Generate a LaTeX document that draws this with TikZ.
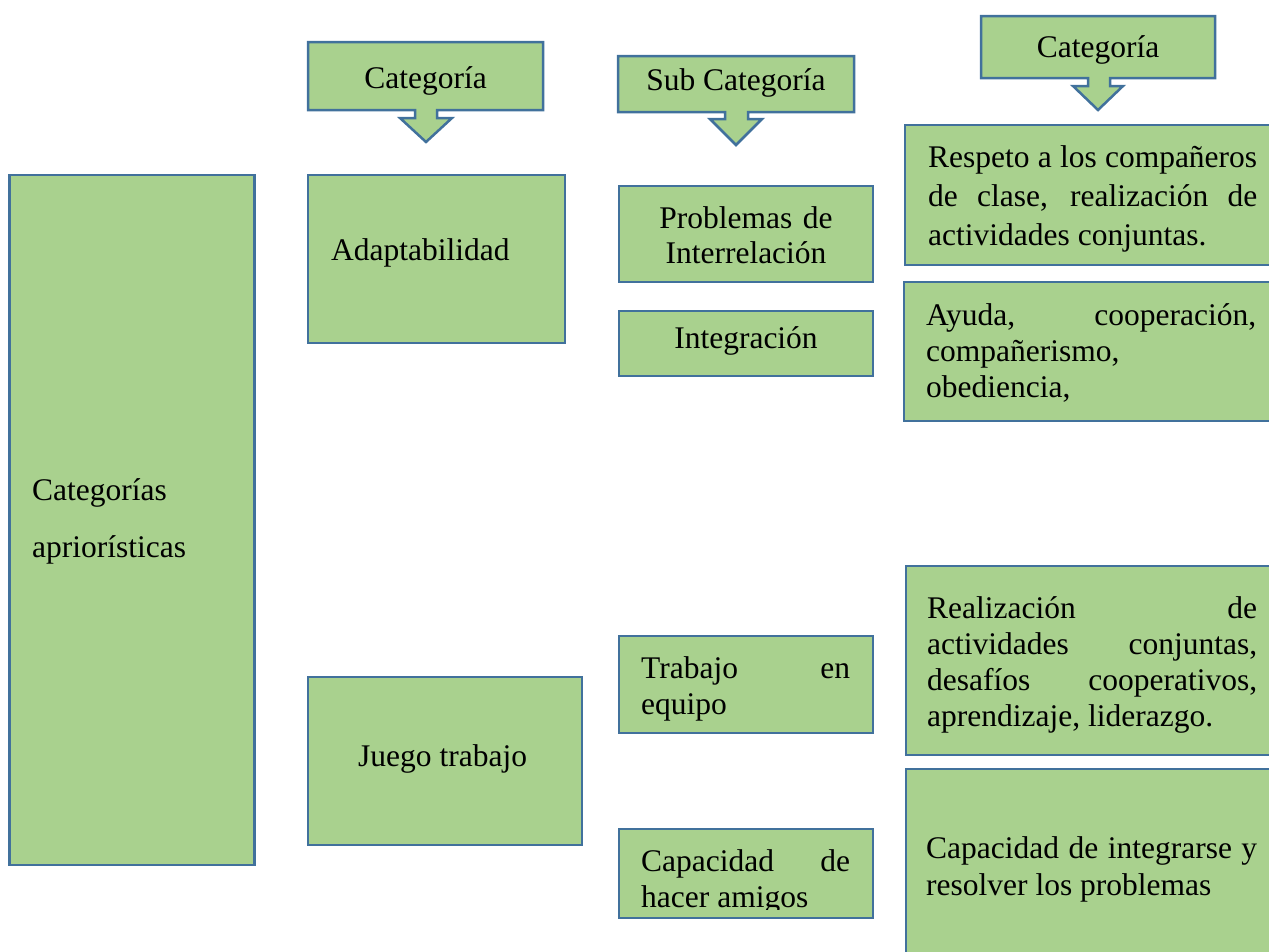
\documentclass[tikz,border=0pt]{standalone}
\usepackage{fontspec}
\setmainfont{Liberation Serif}
\definecolor{boxfill}{HTML}{A9D18E}
\definecolor{boxline}{HTML}{41719C}
\begin{document}
\begin{tikzpicture}[x=1pt,y=-1pt,
  box/.style={draw=boxline, fill=boxfill, line width=2.5pt, rectangle, inner sep=0pt},
  callout/.style={draw=boxline, fill=boxfill, line width=2.5pt, line join=miter},
  txt/.style={inner sep=0pt, font=\fontsize{31.5}{37}\selectfont},
  jtxt/.style={txt, align=justify, anchor=base west},
]
\useasboundingbox (0,0) rectangle (1269,951);

% callouts
\draw[callout] (308,42) -- (543,42) -- (543,110) -- (437,110) -- (437,118) -- (452,118) -- (426,142) -- (400,118) -- (415,118) -- (415,110) -- (308,110) -- cycle;
\node[txt, anchor=base] (c1) at (425.5,88) {Categoría};
\draw[callout] (618,56) -- (854,56) -- (854,112) -- (748,112) -- (748,119) -- (762,119) -- (736,145) -- (710,119) -- (725,119) -- (725,112) -- (618,112) -- cycle;
\node[txt, anchor=base] (c2) at (736,90) {Sub Categoría};
\draw[callout] (981,16) -- (1215,16) -- (1215,78) -- (1110,78) -- (1110,86) -- (1123,86) -- (1098,110) -- (1073,86) -- (1088,86) -- (1088,78) -- (981,78) -- cycle;
\node[txt, anchor=base] (c3) at (1098,57) {Categoría};

% boxes
\node[box, minimum width=245pt, minimum height=690pt] (big) at (132,520) {};
\node[box, minimum width=257pt, minimum height=168pt] (adapt) at (436.5,259) {};
\node[box, minimum width=274pt, minimum height=168pt] (juego) at (445,761) {};
\node[box, minimum width=254pt, minimum height=96pt] (prob) at (746,234) {};
\node[box, minimum width=254pt, minimum height=65pt] (integ) at (746,343.5) {};
\node[box, minimum width=254pt, minimum height=97pt] (trab) at (746,684.5) {};
\node[box, minimum width=254pt, minimum height=89pt] (capa) at (746,873.5) {};
\node[box, minimum width=395pt, minimum height=140pt] (r1) at (1102.5,195) {};
\node[box, minimum width=396pt, minimum height=139pt] (r2) at (1102,351.5) {};
\node[box, minimum width=394pt, minimum height=189pt] (r3) at (1103,660.5) {};
\node[box, minimum width=394pt, minimum height=211pt] (r4) at (1103,874.5) {};

% texts
\node[txt, anchor=base west, text width=210pt, align=left, font=\fontsize{31.5}{57}\selectfont] (tbig) at (32,500) {Categorías\\apriorísticas};
\node[txt, anchor=base west] (tadapt) at (331,260) {Adaptabilidad};
\node[txt, anchor=base west] (tjuego) at (358,766) {Juego trabajo};
\node[txt, anchor=base, text width=254pt, align=center, font=\fontsize{31.5}{35}\selectfont] (tprob) at (746,228) {Problemas de\\Interrelación};
\node[txt, anchor=base] (tinteg) at (746,348) {Integración};
\node[jtxt, text width=209pt, font=\fontsize{31.5}{36}\selectfont] (ttrab) at (641,678) {Trabajo en\linebreak equipo};
\begin{scope}
  \clip (619,829) rectangle (873,909);
  \node[jtxt, text width=209pt, font=\fontsize{31.5}{36}\selectfont] (tcapa) at (641,871) {Capacidad de\linebreak hacer amigos};
\end{scope}
\node[jtxt, text width=329pt, font=\fontsize{31.5}{39}\selectfont] (tr1) at (928,167) {Respeto a los compañeros\linebreak de clase, realización de\linebreak actividades conjuntas.};
\node[jtxt, text width=330pt, font=\fontsize{31.5}{36}\selectfont] (tr2) at (926,325) {Ayuda, cooperación,\linebreak compañerismo,\\obediencia,};
\node[jtxt, text width=330pt, font=\fontsize{31.5}{36}\selectfont] (tr3) at (927,618) {Realización de\linebreak actividades conjuntas,\linebreak desafíos cooperativos,\linebreak aprendizaje, liderazgo.};
\node[jtxt, text width=331pt, font=\fontsize{31.5}{37}\selectfont] (tr4) at (926,858) {Capacidad de integrarse y\linebreak resolver los problemas};
\end{tikzpicture}
\end{document}
